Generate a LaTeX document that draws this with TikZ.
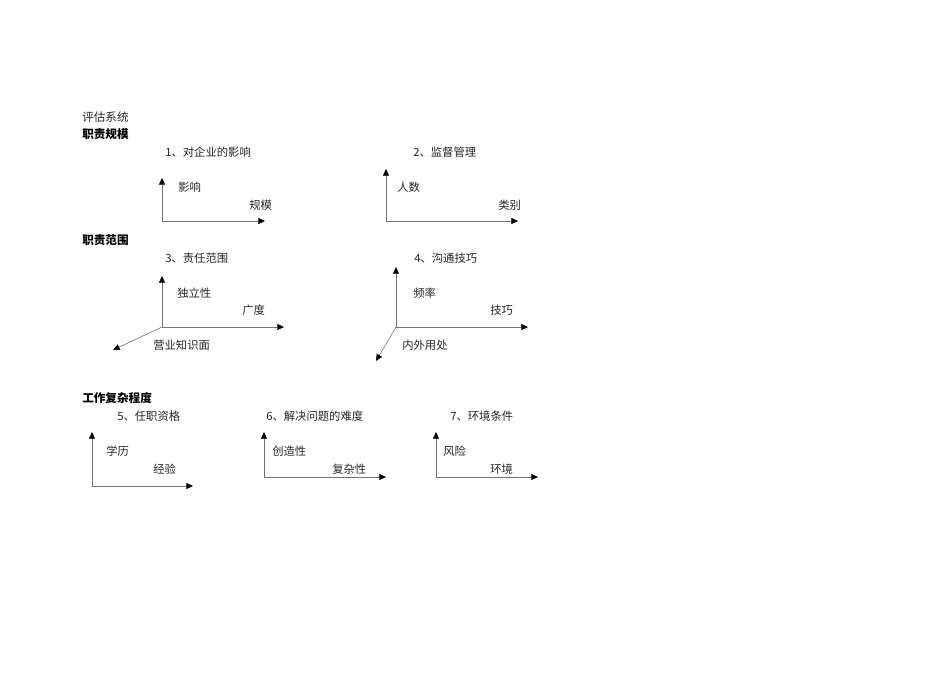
\documentclass[tikz,border=0pt]{standalone}
\usepackage{fontspec}
\setmainfont{Noto Sans CJK SC}
\usetikzlibrary{arrows.meta}
\begin{document}
\begin{tikzpicture}[x=0.75pt,y=-0.75pt,
  lbl/.style={anchor=west,inner sep=0pt,text=black!85,font=\fontsize{8.5}{10}\selectfont},
  hd/.style={lbl,text=black,font=\fontsize{8.7}{10}\selectfont\bfseries},
  axis/.style={draw=black!55,line width=0.45pt,arrows={-{Triangle[length=5pt,width=4.5pt,color=black]}}}]
\useasboundingbox (0,0) rectangle (950,672);
% headings
\node[lbl,font=\fontsize{8.7}{10}\selectfont] (t0) at (82,117) {评估系统};
\node[hd] (h1) at (82,134) {职责规模};
\node[hd] (h2) at (82,240) {职责范围};
\node[hd] (h3) at (82,398) {工作复杂程度};
% chart 1
\node[lbl] (c1) at (165,152) {1、对企业的影响};
\coordinate (o1) at (162,221); \coordinate (u1) at (162,178); \coordinate (r1) at (265,221);
\draw[axis] (o1) -- (u1); \draw[axis] (o1) -- (r1);
\node[lbl] (a1) at (178,187) {影响};
\node[lbl] (b1) at (249,205) {规模};
% chart 2
\node[lbl] (c2) at (413,152) {2、监督管理};
\coordinate (o2) at (386,221); \coordinate (u2) at (386,169); \coordinate (r2) at (518,221);
\draw[axis] (o2) -- (u2); \draw[axis] (o2) -- (r2);
\node[lbl] (a2) at (397,187) {人数};
\node[lbl] (b2) at (498,205) {类别};
% chart 3
\node[lbl] (c3) at (165,258) {3、责任范围};
\coordinate (o3) at (162,327); \coordinate (u3) at (162,276); \coordinate (r3) at (284,327); \coordinate (d3) at (113,350);
\draw[axis] (o3) -- (u3); \draw[axis] (o3) -- (r3); \draw[axis] (o3) -- (d3);
\node[lbl] (a3) at (177,293) {独立性};
\node[lbl] (b3) at (242,310) {广度};
\node[lbl] (e3) at (153,345) {营业知识面};
% chart 4
\node[lbl] (c4) at (414,258) {4、沟通技巧};
\coordinate (o4) at (396,327); \coordinate (u4) at (396,267); \coordinate (r4) at (528,327); \coordinate (d4) at (376,361);
\draw[axis] (o4) -- (u4); \draw[axis] (o4) -- (r4); \draw[axis] (o4) -- (d4);
\node[lbl] (a4) at (413,293) {频率};
\node[lbl] (b4) at (490,310) {技巧};
\node[lbl] (e4) at (402,345) {内外用处};
% chart 5
\node[lbl] (c5) at (117,416) {5、任职资格};
\coordinate (o5) at (92,486); \coordinate (u5) at (92,432); \coordinate (r5) at (193,486);
\draw[axis] (o5) -- (u5); \draw[axis] (o5) -- (r5);
\node[lbl] (a5) at (106,451) {学历};
\node[lbl] (b5) at (153,469) {经验};
% chart 6
\node[lbl] (c6) at (266,416) {6、解决问题的难度};
\coordinate (o6) at (264,477); \coordinate (u6) at (264,432); \coordinate (r6) at (386,477);
\draw[axis] (o6) -- (u6); \draw[axis] (o6) -- (r6);
\node[lbl] (a6) at (272,451) {创造性};
\node[lbl] (b6) at (332,469) {复杂性};
% chart 7
\node[lbl] (c7) at (450,416) {7、环境条件};
\coordinate (o7) at (436,477); \coordinate (u7) at (436,432); \coordinate (r7) at (538,477);
\draw[axis] (o7) -- (u7); \draw[axis] (o7) -- (r7);
\node[lbl] (a7) at (443,451) {风险};
\node[lbl] (b7) at (490,469) {环境};
\end{tikzpicture}
\end{document}
